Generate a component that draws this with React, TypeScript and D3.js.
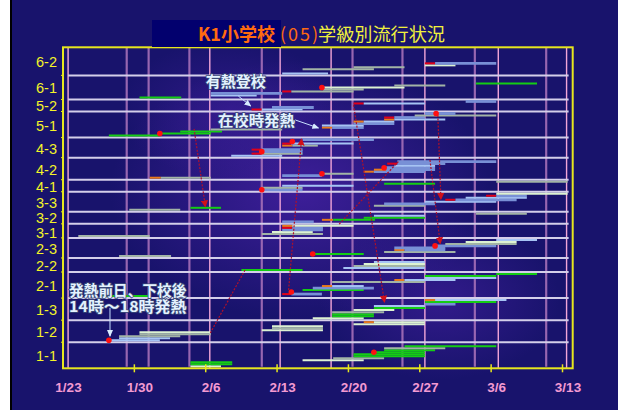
import * as d3 from "d3";

// classes from bottom to top, with how many rows each band holds
const CLASSES = ["1-1", "1-2", "1-3", "2-1", "2-2", "2-3", "3-1", "3-2", "3-3", "4-1", "4-2", "4-3", "5-1", "5-2", "6-1", "6-2"];
const CLASS_ROWS = [13, 11, 11, 13, 7, 10, 7, 6, 10, 6, 11, 10, 13, 6, 12, 14];

// x axis: days since 1/23
const TICK_DAYS = [0, 7, 14, 21, 28, 35, 42, 49];
const TICK_LABELS = ["1/23", "1/30", "2/6", "2/13", "2/20", "2/27", "3/6", "3/13"];
const PINK_DAYS = [0.5, 14.4, 21.3, 26.3, 35.5, 42.7, 49.4];
const PURPLE_DAYS = [6.25, 8.4, 12.4, 19.5, 28.4, 33.3, 40.4, 47.4];

// [row in class, start day, end day, kind]
type Bar = [number, number, number, string];
const BARS_1_1: Bar[] = [
  [1, 12.5, 15.5, "pale"], [2, 12.5, 16.6, "green"], [3, 12.5, 16.6, "green"], [4, 23.5, 29.5, "pale"],
  [5, 26.5, 31.5, "gray"], [6, 28.5, 35.5, "green"], [7, 28.5, 35.5, "green"], [8, 30.5, 35.5, "green"],
  [9, 31.5, 36.5, "green"], [10, 31.5, 37.5, "gray"], [11, 33.5, 42.5, "green"],
];
const BARS_1_2: Bar[] = [
  [1, 4.5, 9.5, "ltblue"], [2, 5.5, 10.5, "ltblue"], [3, 5.5, 11.5, "gray"], [4, 7.5, 14.5, "gray"],
  [5, 7.5, 14.5, "pale"], [6, 19.5, 25.5, "pale"], [7, 20.5, 25.5, "gray"], [8, 20.5, 25.5, "pale"],
  [9, 28.5, 35.5, "pale"], [10, 29.5, 30.5, "orange"], [10, 30.5, 35.5, "pale"],
];
const BARS_1_3: Bar[] = [
  [1, 24.5, 29.5, "pale"], [2, 26.4, 30.5, "green"], [3, 26.4, 30.5, "green"], [4, 26.4, 31.5, "gray"],
  [5, 28.5, 32.5, "pale"], [6, 30.5, 35.5, "green"], [7, 30.5, 35.5, "ltblue"], [8, 35.5, 38.5, "blue"],
  [9, 35.5, 42.5, "green"], [10, 35.5, 36.5, "orange"], [10, 36.5, 43.5, "ltblue"],
];
const BARS_2_1: Bar[] = [
  [1, 3.6, 8.4, "green"], [2, 21.5, 22.4, "red"], [2, 22.4, 25.4, "blue"], [4, 23.5, 29.5, "green"],
  [5, 24.5, 30.5, "blue"], [6, 25.4, 26.4, "orange"], [6, 26.4, 29.5, "ltblue"], [8, 26.4, 35.5, "gray"],
  [9, 32.5, 33.5, "orange"], [9, 33.5, 38.5, "ltblue"], [10, 35.5, 42.5, "ltblue"], [11, 35.5, 42.5, "green"],
  [12, 42.5, 46.5, "green"],
];
const BARS_2_2: Bar[] = [
  [1, 17.5, 23.5, "green"], [2, 27.5, 35.5, "ltblue"], [3, 28.5, 35.5, "gray"], [4, 29.5, 35.5, "pale"],
  [5, 30.5, 35.5, "ltblue"],
];
const BARS_2_3: Bar[] = [
  [1, 5.5, 10.6, "gray"], [2, 24.5, 29.5, "green"], [3, 31.5, 38.5, "gray"], [4, 32.5, 33.5, "orange"],
  [4, 33.5, 37.5, "blue"], [5, 32.5, 37.5, "blue"], [6, 36.5, 42.5, "blue"], [7, 37.5, 44.5, "gray"],
  [8, 39.5, 44.5, "pale"], [9, 42.5, 46.5, "ltblue"],
];
const BARS_3_1: Bar[] = [
  [1, 1.5, 8.5, "gray"], [2, 19.5, 25.5, "gray"], [3, 20.5, 24.5, "pale"], [4, 21.5, 25.5, "blue"],
  [5, 21.5, 22.5, "red"], [5, 22.5, 25.5, "blue"], [6, 21.5, 22.5, "orange"], [6, 22.5, 28.5, "pale"],
];
const BARS_3_2: Bar[] = [
  [1, 21.5, 24.6, "blue"], [2, 25.4, 26.5, "orange"], [2, 26.5, 30.6, "green"], [3, 29.5, 35.5, "green"],
  [4, 30.5, 35.5, "ltblue"], [5, 40.5, 45.5, "gray"],
];
const BARS_3_3: Bar[] = [
  [1, 6.5, 11.5, "gray"], [2, 12.5, 15.5, "green"], [3, 30.5, 35.5, "gray"], [4, 31.5, 36.5, "blue"],
  [5, 35.5, 42.5, "ltblue"], [6, 37.5, 38.5, "red"], [6, 38.5, 44.5, "blue"], [7, 39.5, 45.5, "ltblue"],
  [8, 41.5, 42.5, "red"], [8, 42.5, 45.5, "blue"], [9, 42.5, 49.5, "pale"],
];
const BARS_4_1: Bar[] = [
  [1, 19.5, 23.5, "blue"], [2, 19.5, 23.5, "gray"], [3, 21.5, 28.5, "ltblue"], [4, 31.5, 36.5, "green"],
  [5, 42.5, 49.5, "gray"],
];
const BARS_4_2: Bar[] = [
  [1, 8.5, 9.6, "orange"], [1, 9.6, 14.5, "gray"], [2, 21.5, 25.4, "blue"], [3, 25.4, 28.5, "gray"],
  [4, 29.5, 30.5, "orange"], [4, 30.5, 35.5, "blue"], [5, 30.5, 31.7, "orange"], [5, 31.7, 36.5, "blue"],
  [6, 31.7, 36.5, "blue"], [7, 32.5, 36.5, "ltblue"], [8, 31.8, 32.8, "red"], [8, 32.8, 37.5, "blue"],
  [9, 32.8, 42.5, "blue"],
];
const BARS_4_3: Bar[] = [
  [1, 16.5, 21.5, "ltblue"], [2, 18.5, 19.5, "red"], [2, 19.5, 23.5, "gray"], [3, 19.5, 23.5, "blue"],
  [4, 18.5, 19.5, "red"], [4, 19.5, 23.5, "blue"], [6, 21.5, 22.5, "orange"], [6, 22.5, 25, "gray"],
  [7, 21.5, 22.4, "red"], [7, 22.4, 28.5, "ltblue"], [9, 23.5, 30.5, "blue"],
];
const BARS_5_1: Bar[] = [
  [1, 4.5, 9.5, "green"], [2, 9.5, 14.5, "green"], [3, 11.5, 15.6, "green"], [4, 14.5, 21.5, "gray"],
  [5, 25.4, 26.4, "orange"], [5, 26.4, 29.5, "blue"], [6, 25.4, 29.5, "ltblue"], [7, 28.5, 32.5, "blue"],
  [8, 28.5, 29.5, "orange"], [8, 29.5, 32.5, "ltblue"], [9, 31.5, 32.5, "orange"], [9, 32.5, 37.5, "ltblue"],
  [10, 31.5, 32.5, "red"], [10, 32.5, 35.5, "blue"], [11, 34.5, 42.5, "gray"], [12, 35.5, 38.5, "blue"],
];
const BARS_5_2: Bar[] = [
  [1, 18.5, 19.5, "red"], [1, 19.5, 23.5, "ltblue"], [2, 20.5, 24.6, "blue"], [4, 28.5, 29.5, "red"],
  [4, 29.5, 35.5, "ltblue"], [5, 39.5, 42.5, "blue"],
];
const BARS_6_1: Bar[] = [
  [1, 7.5, 11.6, "green"], [2, 14.5, 19, "ltblue"], [3, 14.5, 21.5, "blue"], [4, 21.5, 22.4, "red"],
  [4, 22.4, 28.5, "gray"], [5, 25.5, 29.5, "gray"], [6, 25.4, 33.5, "pale"], [7, 32.5, 37.5, "gray"],
  [8, 40.5, 46.5, "green"],
];
const BARS_6_2: Bar[] = [
  [1, 21.5, 26, "ltblue"], [3, 23.5, 30.5, "gray"], [4, 28.5, 33.5, "gray"], [5, 35.5, 38.5, "pale"],
  [6, 35.5, 36.5, "red"], [6, 36.5, 42.5, "blue"],
];
const CLASS_BARS = [BARS_1_1, BARS_1_2, BARS_1_3, BARS_2_1, BARS_2_2, BARS_2_3, BARS_3_1, BARS_3_2,
  BARS_3_3, BARS_4_1, BARS_4_2, BARS_4_3, BARS_5_1, BARS_5_2, BARS_6_1, BARS_6_2];

// fever onset markers: [class, row in class, day]
const ONSETS: [string, number, number][] = [
  ["5-1", 2, 9.5], ["1-2", 1, 4.5], ["4-1", 1, 19.5], ["4-3", 3, 19.5], ["4-3", 8, 22.5],
  ["6-1", 6, 25.4], ["4-2", 3, 25.4], ["2-3", 2, 24.5], ["2-1", 3, 22.4], ["4-2", 6, 31.5],
  ["1-1", 8, 30.5], ["2-3", 6, 36.5], ["5-1", 12, 36.6],
];

// dotted red links between cases: [day1, row1, day2, row2, arrowhead]
const LINKS: [number, number, number, number, boolean][] = [
  [12.86, 119.3, 13.96, 80.7, true],
  [22.13, 39, 23.4, 114.1, true],
  [28.5, 131.3, 31.53, 33.2, true],
  [36.77, 126.3, 37.07, 84.4, true],
  [36.0, 103.8, 37.0, 62.3, true],
  [32.9, 103, 27.0, 71.4, false],
  [17.86, 49, 14.43, 17.4, false],
];

// notes: [lines, day, row of first baseline, width in days]
const NOTES: [string[], number, number, number][] = [
  [["有熱登校"], 14.0, 140.2, 5.9],
  [["在校時発熱"], 15.2, 120.8, 7.55],
  [["発熱前日、下校後", "14時～18時発熱"], 0.6, 36.2, 11.5],
];
const NOTE_LINE_ROWS = 8.1;
const NOTE_ARROWS: [number, number, number, number][] = [
  [17.2, 135.7, 18.4, 130.8],
  [22.77, 123.8, 25.05, 119.8],
  [4.61, 30.1, 4.61, 16.1],
];

const KIND_COLOR: Record<string, string> = {
  gray: "#a2b4a6",
  pale: "#dcf2d2",
  ltblue: "#a6c4f4",
  blue: "#7890d6",
  green: "#14cc14",
  orange: "#e87a1c",
  red: "#e0001a",
};

const W = 624;
const H = 410;
const PLOT = { left: 63, right: 572.7, top: 47.3, bottom: 368.3 };
const JP = "'Noto Sans CJK JP', 'Noto Sans', sans-serif";
const LABEL_GAP = 15;

export default function App() {
  const total = d3.sum(CLASS_ROWS);
  const starts = [0, ...Array.from(d3.cumsum(CLASS_ROWS))];
  const x = d3.scaleLinear().domain([0, 50]).range([PLOT.left, PLOT.right]);
  const y = d3.scaleLinear().domain([0, total]).range([PLOT.bottom, PLOT.top]);
  const rowOf = (cls: string, r: number) => starts[CLASSES.indexOf(cls)] + r;

  const bars = CLASS_BARS.flatMap((list, ci) =>
    list.map(([r, s, e, kind]) => ({ row: starts[ci] + r, s, e, kind }))
  );

  // class label positions: band centres, spread apart where bands are narrow
  const labelY = CLASSES.map((_, i) => y(starts[i] + CLASS_ROWS[i] / 2));
  for (let pass = 0; pass < 3; pass++) {
    for (let i = 1; i < labelY.length; i++) {
      const gap = labelY[i - 1] - labelY[i];
      if (gap < LABEL_GAP) {
        const push = (LABEL_GAP - gap) / 2;
        labelY[i - 1] += push;
        labelY[i] -= push;
      }
    }
  }

  return (
    <svg width={W} height={H} style={{ position: "absolute", left: 0, top: 0 }}>
      <defs>
        <radialGradient id="blob" cx="50%" cy="50%" r="50%">
          <stop offset="0%" stopColor="#4a22a8" stopOpacity={0.75} />
          <stop offset="100%" stopColor="#4a22a8" stopOpacity={0} />
        </radialGradient>
        <marker id="redHead" markerWidth={6} markerHeight={6} refX={5} refY={3} orient="auto">
          <path d="M0,0 L6,3 L0,6 z" fill="#d0101a" />
        </marker>
        <marker id="whiteHead" markerWidth={7} markerHeight={7} refX={6} refY={3.5} orient="auto">
          <path d="M0,0.5 L7,3.5 L0,6.5 z" fill="#d8ecff" />
        </marker>
      </defs>
      <rect x={0} y={0} width={W} height={H} fill="#ffffff" />
      <rect x={10} y={0} width={608} height={H} fill="#18136c" />
      <rect x={10} y={0} width={2} height={H} fill="#000000" />
      <ellipse cx={300} cy={190} rx={190} ry={130} fill="url(#blob)" />
      <ellipse cx={440} cy={300} rx={120} ry={80} fill="url(#blob)" opacity={0.7} />
      <ellipse cx={230} cy={110} rx={110} ry={70} fill="url(#blob)" opacity={0.6} />

      {/* vertical grid */}
      {PURPLE_DAYS.map((d) => (
        <line key={"pu" + d} x1={x(d)} x2={x(d)} y1={PLOT.top} y2={PLOT.bottom - 1.5}
          stroke="#a56fb8" strokeWidth={2.2} opacity={0.9} />
      ))}
      {PINK_DAYS.map((d) => (
        <line key={"pi" + d} x1={x(d)} x2={x(d)} y1={PLOT.top} y2={PLOT.bottom}
          stroke="#f2a6d8" strokeWidth={1.4} />
      ))}
      {/* class boundaries */}
      {starts.slice(1, -1).map((r) => (
        <line key={"h" + r} x1={x(0.5)} x2={x(49.6)} y1={y(r)} y2={y(r)}
          stroke="#d4cfea" strokeWidth={2} />
      ))}

      {/* bars */}
      {bars.map((b, i) => (
        <line key={"b" + i} x1={x(b.s)} x2={x(b.e)} y1={y(b.row)} y2={y(b.row)}
          stroke={KIND_COLOR[b.kind]} strokeWidth={b.kind === "blue" ? 2.8 : 2} />
      ))}

      {/* links */}
      {LINKS.map(([d1, r1, d2, r2, head], i) => (
        <line key={"l" + i} x1={x(d1)} y1={y(r1)} x2={x(d2)} y2={y(r2)}
          stroke="#b0102a" strokeWidth={1.2} strokeDasharray="2,1.5"
          markerEnd={head ? "url(#redHead)" : undefined} />
      ))}

      {/* onset markers */}
      {ONSETS.map(([c, r, d], i) => (
        <circle key={"o" + i} cx={x(d)} cy={y(rowOf(c, r))} r={2.8} fill="#ff1010" />
      ))}

      {/* frame and axes */}
      <rect x={PLOT.left} y={PLOT.top} width={PLOT.right - PLOT.left} height={PLOT.bottom - PLOT.top}
        fill="none" stroke="#e6e61e" strokeWidth={2} />
      {TICK_DAYS.slice(1).map((d) => (
        <line key={"t" + d} x1={x(d)} x2={x(d)} y1={PLOT.bottom - 4} y2={PLOT.bottom + 4}
          stroke="#e6e61e" strokeWidth={1.5} />
      ))}
      {starts.slice(1, -1).map((r) => (
        <line key={"yt" + r} x1={PLOT.left - 2} x2={PLOT.left} y1={y(r)} y2={y(r)}
          stroke="#e6e61e" strokeWidth={1} />
      ))}
      {TICK_DAYS.map((d, i) => (
        <text key={"tl" + d} x={x(d) + 5.5} y={392} textAnchor="middle" fontSize={13.5}
          fontWeight="bold" fontFamily="'Liberation Sans', Arial, sans-serif" fill="#f39ad2">
          {TICK_LABELS[i]}
        </text>
      ))}
      {CLASSES.map((c, i) => (
        <text key={"yl" + c} x={57} y={labelY[i] + 6} textAnchor="end"
          fontSize={14.5} fontFamily="'Liberation Sans', Arial, sans-serif" fill="#f4f428">
          {c}
        </text>
      ))}

      {/* title */}
      <rect x={152} y={20} width={129} height={27} fill="#02006e" />
      <text x={198} y={41} fontSize={18} fontWeight="bold" fontFamily={JP} fill="#ff6a10"
        textLength={77} lengthAdjust="spacingAndGlyphs">K1小学校</text>
      <text x={280} y={41} fontSize={18} fontFamily={JP} fill="#ff6a10"
        textLength={38} lengthAdjust="spacing">(05)</text>
      <text x={318} y={41} fontSize={18} fontFamily={JP} fill="#f0f03c"
        textLength={127} lengthAdjust="spacingAndGlyphs">学級別流行状況</text>

      {/* notes */}
      {NOTE_ARROWS.map(([d1, r1, d2, r2], i) => (
        <line key={"na" + i} x1={x(d1)} y1={y(r1)} x2={x(d2)} y2={y(r2)}
          stroke="#c8e0ff" strokeWidth={1} markerEnd="url(#whiteHead)" />
      ))}
      {NOTES.map(([lines, d, r, len], i) => (
        <text key={"n" + i} fontSize={14.5} fontWeight="bold" fontFamily={JP}
          fill="#e4f2ff" stroke="#3a4a78" strokeWidth={1.6} paintOrder="stroke">
          {lines.map((t, j) => (
            <tspan key={j} x={x(d)} y={y(r - j * NOTE_LINE_ROWS)}
              textLength={x(len) - x(0)} lengthAdjust="spacingAndGlyphs">{t}</tspan>
          ))}
        </text>
      ))}
    </svg>
  );
}
